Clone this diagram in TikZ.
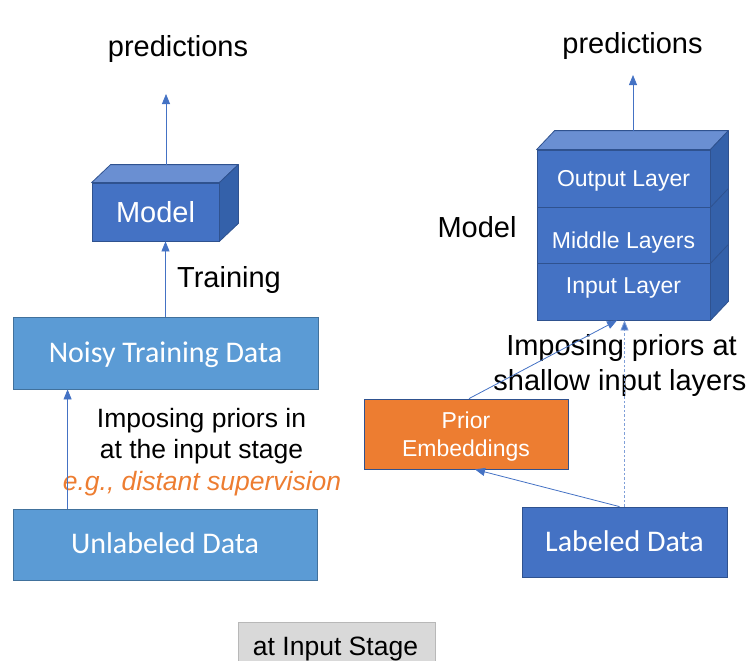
\documentclass[tikz,border=0pt]{standalone}
\usepackage{fontspec}
\setmainfont{Liberation Sans}
\newfontfamily\calfont{Carlito}
\usetikzlibrary{arrows.meta,calc}

\definecolor{boxblue}{HTML}{4472C4}
\definecolor{lightbox}{HTML}{5B9BD5}
\definecolor{edgeblue}{HTML}{2F528F}
\definecolor{edgelight}{HTML}{41719C}
\definecolor{topface}{HTML}{6A8FD2}
\definecolor{sideface}{HTML}{3461AA}
\definecolor{priororange}{HTML}{ED7D31}
\definecolor{dashblue}{HTML}{7F9FD8}
\definecolor{stagegray}{HTML}{D9D9D9}

\tikzset{
  databox/.style={draw=edgelight, fill=lightbox, line width=0.8pt, text=white,
    font=\calfont\fontsize{30}{36}\selectfont, inner sep=0pt, text height=19pt, text depth=0pt},
  layerbox/.style={draw=edgeblue, fill=boxblue, line width=0.8pt, text=white,
    font=\fontsize{23}{27}\selectfont, inner sep=0pt, minimum width=173pt,
    text height=16.5pt, text depth=0pt},
  cubeface/.style={draw=edgeblue, line width=0.8pt, line join=round},
  caption/.style={font=\fontsize{29}{34}\selectfont, inner sep=0pt, anchor=base},
  note/.style={font=\fontsize{26.5}{31.5}\selectfont, inner sep=0pt, anchor=base},
  boxtext/.style={font=\fontsize{23}{28}\selectfont, text=white, inner sep=0pt, anchor=base},
  conn/.style={draw=boxblue, line width=0.8pt, -{Triangle[length=10pt,width=8pt]}},
  dashconn/.style={draw=dashblue, line width=0.8pt, dash pattern=on 2.5pt off 2pt,
    -{Triangle[length=10pt,width=8pt,fill=boxblue]}},
}

\begin{document}
\begin{tikzpicture}[x=1pt,y=-1pt]
\useasboundingbox (0,0) rectangle (752,661);

% ---------- left: priors imposed on the data ----------
\node[databox, minimum width=305pt, minimum height=72pt] (noisy) at (165.5,353) {Noisy Training Data};
\node[databox, minimum width=304pt, minimum height=71pt, text height=17pt] (unl) at (165,544.5) {Unlabeled Data};

% model cube
\node[layerbox, minimum width=127pt, minimum height=58pt, font=\fontsize{29}{34}\selectfont,
  text height=20.8pt] (lm) at (155.5,212) {Model};
\draw[cubeface, fill=topface] (lm.north west) -- ++(19,-18) -- ($(lm.north east)+(19,-18)$) -- (lm.north east) -- cycle;
\draw[cubeface, fill=sideface] (lm.north east) -- ++(19,-18) -- ($(lm.south east)+(19,-18)$) -- (lm.south east) -- cycle;

\node[caption] (lpred) at (178,57) {predictions};
\node[caption] (train) at (229,287) {Training};

\node[note] (lnote1) at (201.5,427) {Imposing priors in};
\node[note] (lnote2) at (201.5,458) {at the input stage};
\node[note, text=priororange, font=\itshape\fontsize{26.5}{31.5}\selectfont] (lnote3) at (202,490) {e.g., distant supervision};

\coordinate (lback) at (166,165);
\coordinate (ltip) at (166,94);
\draw[conn] (lback) -- (ltip);
\draw[conn] (noisy.north) -- (noisy.north |- lm.south);
\draw[conn] ([xshift=55pt]unl.north west) -- ([xshift=55pt]noisy.south west);

% ---------- right: priors imposed at the input layers ----------
\node[layerbox, minimum height=57pt] (outl) at (623.5,178.5) {Output Layer};
\node[layerbox, minimum height=56pt, text height=26.5pt] (midl) at (623.5,235) {Middle Layers};
\node[layerbox, minimum height=57pt, text depth=12pt] (inl) at (623.5,291.5) {Input Layer};
\draw[cubeface, fill=topface] (outl.north west) -- ++(18,-19) -- ($(outl.north east)+(18,-19)$) -- (outl.north east) -- cycle;
\draw[cubeface, fill=sideface] (outl.north east) -- ++(18,-19) -- ($(inl.south east)+(18,-19)$) -- (inl.south east) -- cycle;
\draw[cubeface] (outl.south east) -- ++(18,-19);
\draw[cubeface] (midl.south east) -- ++(18,-19);

\node[caption] (rpred) at (632.5,53) {predictions};
\node[caption] (rmodel) at (477,237) {Model};

\node[draw=edgeblue, fill=priororange, line width=0.8pt, minimum width=204pt, minimum height=70pt, inner sep=0pt]
  (prior) at (466,434) {};
\node[boxtext] (prior1) at (466,428) {Prior};
\node[boxtext] (prior2) at (466,456) {Embeddings};
\node[draw=edgeblue, fill=boxblue, line width=0.8pt, text=white,
  font=\calfont\fontsize{30}{36}\selectfont, minimum width=205pt, minimum height=70pt, inner sep=0pt,
  text height=19pt, text depth=0pt]
  (lab) at (624.5,542) {Labeled Data};

\node[caption] (rnote1) at (621.5,355) {Imposing priors at};
\node[caption] (rnote2) at (620,390) {shallow input layers};

\coordinate (rback) at (633,131);
\coordinate (rtip) at (633,75);
\draw[conn] (rback) -- (rtip);
\draw[conn] ([xshift=-5pt]lab.north) -- ([xshift=9pt]prior.south);
\draw[dashconn] (lab.north) -- (lab.north |- inl.south);
\draw[conn] ([xshift=3pt]prior.north) -- ([xshift=-6.5pt]inl.south);

% ---------- stage tag ----------
\node[fill=stagegray, draw=stagegray!85!black, line width=0.4pt, minimum width=197pt, minimum height=42pt,
  inner sep=0pt, anchor=north west] (stagebox) at (238,622) {};
\node[note] (stage) at (335.5,655) {at Input Stage};
\end{tikzpicture}
\end{document}
